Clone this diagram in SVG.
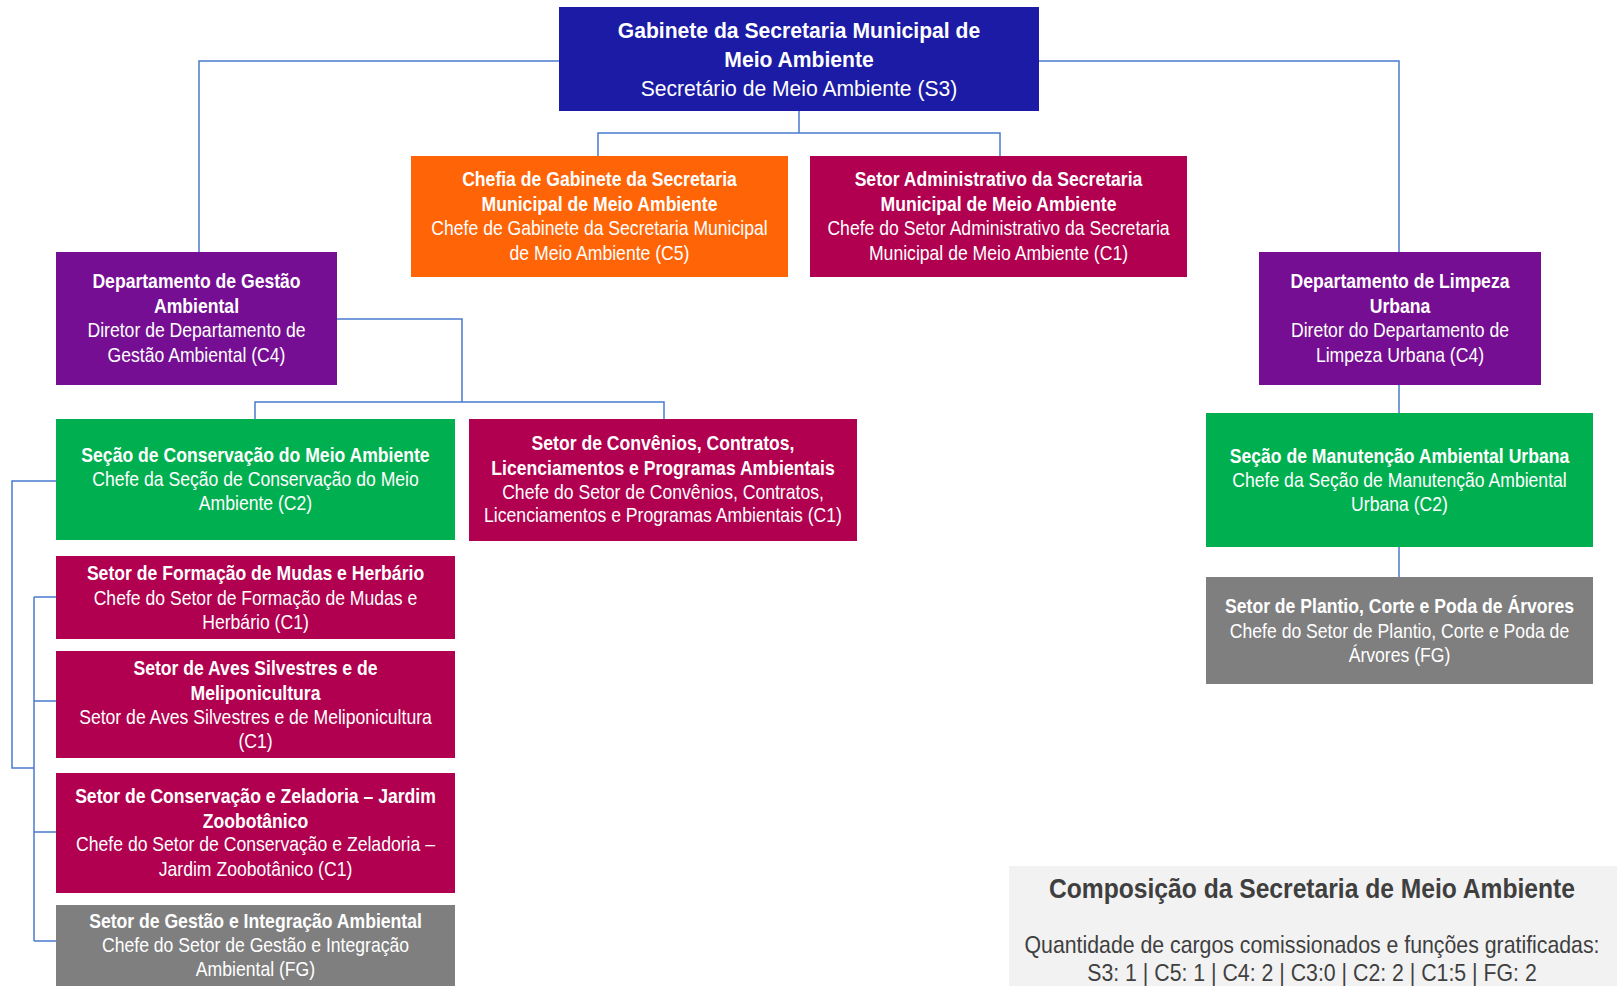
<svg xmlns="http://www.w3.org/2000/svg" width="1617" height="986" viewBox="0 0 1617 986">
<style>
.t{font-family:"Liberation Sans",Arial,sans-serif;font-size:20px;fill:#fff;text-anchor:middle}
.b{font-weight:bold}
.top{font-size:22px}
.con{fill:none;stroke:#4a7bd0;stroke-width:1.5}
.blue{fill:#1b1ba6}.orange{fill:#ff6407}.mag{fill:#b1004f}.pur{fill:#750e92}.green{fill:#00b050}.gray{fill:#7f7f7f}
.sum{font-family:"Liberation Sans",Arial,sans-serif;fill:#3f3f3f;text-anchor:middle}
</style>
<rect width="1617" height="986" fill="#fff"/>
<g id="connectors" class="con">
<path d="M559,61 H199 V252"/>
<path d="M1039,61 H1399 V252"/>
<path d="M799,111 V133 H598 V156 M799,133 H1000 V156"/>
<path d="M337,319 H462 V402 M255,419 V402 H664 V419"/>
<path d="M56,481 H12 V768 H34 M34,597 V941 M34,597 H56 M34,701 H56 M34,832 H56 M34,941 H56"/>
<path d="M1399,385 V413 M1399,547 V577"/>
</g>
<g id="n-gabinete">
<rect class="blue" x="559" y="7" width="480" height="104"/>
<g transform="translate(799,0) scale(0.96,1)">
<text class="t top b" x="0" y="38">Gabinete da Secretaria Municipal de</text>
<text class="t top b" x="0" y="67">Meio Ambiente</text>
<text class="t top" x="0" y="96.5">Secretário de Meio Ambiente (S3)</text>
</g>
</g>
<g id="n-chefia">
<rect class="orange" x="411" y="156" width="377" height="121"/>
<g transform="translate(599.5,0) scale(0.88,1)">
<text class="t b" x="0" y="186.5">Chefia de Gabinete da Secretaria</text>
<text class="t b" x="0" y="211">Municipal de Meio Ambiente</text>
<text class="t" x="0" y="235">Chefe de Gabinete da Secretaria Municipal</text>
<text class="t" x="0" y="260">de Meio Ambiente (C5)</text>
</g>
</g>
<g id="n-adm">
<rect class="mag" x="810" y="156" width="377" height="121"/>
<g transform="translate(998.5,0) scale(0.88,1)">
<text class="t b" x="0" y="186.5">Setor Administrativo da Secretaria</text>
<text class="t b" x="0" y="211">Municipal de Meio Ambiente</text>
<text class="t" x="0" y="235">Chefe do Setor Administrativo da Secretaria</text>
<text class="t" x="0" y="260">Municipal de Meio Ambiente (C1)</text>
</g>
</g>
<g id="n-dga">
<rect class="pur" x="56" y="252" width="281" height="133"/>
<g transform="translate(196.5,0) scale(0.88,1)">
<text class="t b" x="0" y="288.5">Departamento de Gestão</text>
<text class="t b" x="0" y="313">Ambiental</text>
<text class="t" x="0" y="337">Diretor de Departamento de</text>
<text class="t" x="0" y="362">Gestão Ambiental (C4)</text>
</g>
</g>
<g id="n-dlu">
<rect class="pur" x="1259" y="252" width="282" height="133"/>
<g transform="translate(1400,0) scale(0.88,1)">
<text class="t b" x="0" y="288.5">Departamento de Limpeza</text>
<text class="t b" x="0" y="313">Urbana</text>
<text class="t" x="0" y="337">Diretor do Departamento de</text>
<text class="t" x="0" y="362">Limpeza Urbana (C4)</text>
</g>
</g>
<g id="n-scma">
<rect class="green" x="56" y="419" width="399" height="121"/>
<g transform="translate(255.5,0) scale(0.88,1)">
<text class="t b" x="0" y="462">Seção de Conservação do Meio Ambiente</text>
<text class="t" x="0" y="486.5">Chefe da Seção de Conservação do Meio</text>
<text class="t" x="0" y="510">Ambiente (C2)</text>
</g>
</g>
<g id="n-convenios">
<rect class="mag" x="469" y="419" width="388" height="122"/>
<g transform="translate(663,0) scale(0.88,1)">
<text class="t b" x="0" y="450.5">Setor de Convênios, Contratos,</text>
<text class="t b" x="0" y="475">Licenciamentos e Programas Ambientais</text>
<text class="t" x="0" y="499">Chefe do Setor de Convênios, Contratos,</text>
<text class="t" x="0" y="522.5">Licenciamentos e Programas Ambientais (C1)</text>
</g>
</g>
<g id="n-smau">
<rect class="green" x="1206" y="413" width="387" height="134"/>
<g transform="translate(1399.5,0) scale(0.88,1)">
<text class="t b" x="0" y="463">Seção de Manutenção Ambiental Urbana</text>
<text class="t" x="0" y="487.5">Chefe da Seção de Manutenção Ambiental</text>
<text class="t" x="0" y="511">Urbana (C2)</text>
</g>
</g>
<g id="n-plantio">
<rect class="gray" x="1206" y="577" width="387" height="107"/>
<g transform="translate(1399.5,0) scale(0.88,1)">
<text class="t b" x="0" y="613">Setor de Plantio, Corte e Poda de Árvores</text>
<text class="t" x="0" y="638">Chefe do Setor de Plantio, Corte e Poda de</text>
<text class="t" x="0" y="662">Árvores (FG)</text>
</g>
</g>
<g id="n-mudas">
<rect class="mag" x="56" y="556" width="399" height="83"/>
<g transform="translate(255.5,0) scale(0.88,1)">
<text class="t b" x="0" y="580">Setor de Formação de Mudas e Herbário</text>
<text class="t" x="0" y="605">Chefe do Setor de Formação de Mudas e</text>
<text class="t" x="0" y="629">Herbário (C1)</text>
</g>
</g>
<g id="n-aves">
<rect class="mag" x="56" y="651" width="399" height="107"/>
<g transform="translate(255.5,0) scale(0.88,1)">
<text class="t b" x="0" y="675">Setor de Aves Silvestres e de</text>
<text class="t b" x="0" y="700">Meliponicultura</text>
<text class="t" x="0" y="724">Setor de Aves Silvestres e de Meliponicultura</text>
<text class="t" x="0" y="748.5">(C1)</text>
</g>
</g>
<g id="n-zeladoria">
<rect class="mag" x="56" y="773" width="399" height="120"/>
<g transform="translate(255.5,0) scale(0.88,1)">
<text class="t b" x="0" y="803">Setor de Conservação e Zeladoria – Jardim</text>
<text class="t b" x="0" y="828">Zoobotânico</text>
<text class="t" x="0" y="851.5">Chefe do Setor de Conservação e Zeladoria –</text>
<text class="t" x="0" y="876">Jardim Zoobotânico (C1)</text>
</g>
</g>
<g id="n-sgia">
<rect class="gray" x="56" y="905" width="399" height="90"/>
<g transform="translate(255.5,0) scale(0.88,1)">
<text class="t b" x="0" y="928">Setor de Gestão e Integração Ambiental</text>
<text class="t" x="0" y="952.5">Chefe do Setor de Gestão e Integração</text>
<text class="t" x="0" y="976">Ambiental (FG)</text>
</g>
</g>
<g id="summary">
<rect x="1009" y="866" width="620" height="130" fill="#f2f2f2"/>
<g transform="translate(1312,0) scale(0.88,1)">
<text class="sum" x="0" y="898.5" font-size="28" font-weight="bold">Composição da Secretaria de Meio Ambiente</text>
<text class="sum" x="0" y="953.5" font-size="24.2">Quantidade de cargos comissionados e funções gratificadas:</text>
<text class="sum" x="0" y="981" font-size="24.2">S3: 1 | C5: 1 | C4: 2 | C3:0 | C2: 2 | C1:5 | FG: 2</text>
</g>
</g>
</svg>
